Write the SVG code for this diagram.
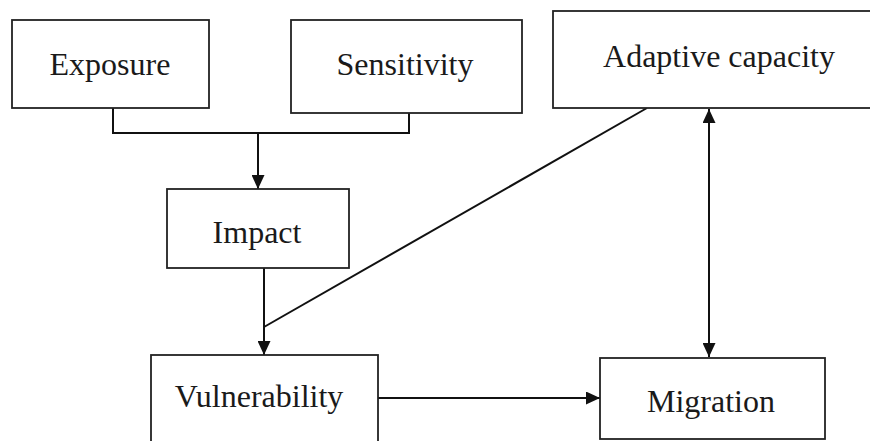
<svg xmlns="http://www.w3.org/2000/svg" width="870" height="441" viewBox="0 0 870 441">
<defs>
<style>
.box{fill:#fff;stroke:#222;stroke-width:1.8}
.lbl{font-family:"Liberation Serif","Times New Roman",serif;font-size:32px;fill:#1a1a1a;text-anchor:middle}
.ln{fill:none;stroke:#111;stroke-width:2}
</style>
<marker id="ah" viewBox="0 0 14 13" refX="14" refY="6.5" markerWidth="14" markerHeight="13" markerUnits="userSpaceOnUse" orient="auto-start-reverse">
<path d="M0,0 L14,6.5 L0,13 Z" fill="#111"/>
</marker>
</defs>
<rect width="870" height="441" fill="#fff"/>
<g id="connectors">
<path class="ln" d="M113,108 V133 H409 V113"/>
<line class="ln" x1="258" y1="133" x2="258" y2="189" marker-end="url(#ah)"/>
<line class="ln" x1="264" y1="268" x2="264" y2="355" marker-end="url(#ah)"/>
<line class="ln" x1="264" y1="327" x2="647" y2="108"/>
<line class="ln" x1="378" y1="398" x2="600" y2="398" marker-end="url(#ah)"/>
<line class="ln" x1="709" y1="109" x2="709" y2="357" marker-start="url(#ah)" marker-end="url(#ah)"/>
</g>
<g id="exposure">
<rect class="box" x="12" y="20" width="197" height="88"/>
<text class="lbl" x="110" y="75">Exposure</text>
</g>
<g id="sensitivity">
<rect class="box" x="291" y="20" width="231" height="93"/>
<text class="lbl" x="405" y="75">Sensitivity</text>
</g>
<g id="adaptive">
<rect class="box" x="553" y="11" width="330" height="97"/>
<text class="lbl" x="719" y="67">Adaptive capacity</text>
</g>
<g id="impact">
<rect class="box" x="167" y="189" width="182" height="79"/>
<text class="lbl" x="257" y="243">Impact</text>
</g>
<g id="vulnerability">
<rect class="box" x="151" y="355" width="227" height="100"/>
<text class="lbl" x="259" y="407">Vulnerability</text>
</g>
<g id="migration">
<rect class="box" x="600" y="358" width="225" height="81"/>
<text class="lbl" x="711" y="412">Migration</text>
</g>
</svg>
